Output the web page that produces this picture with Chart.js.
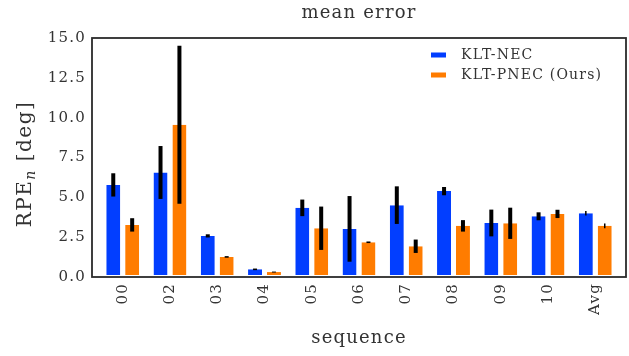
<!DOCTYPE html>
<html>
<head>
<meta charset="utf-8">
<script src="https://cdn.jsdelivr.net/npm/chart.js@4.4.1/dist/chart.umd.min.js"></script>
<style>
  html, body { margin: 0; padding: 0; background: #fff; }
  #wrap { width: 629px; height: 356px; }
</style>
</head>
<body>
<div id="wrap"><canvas id="c" width="629" height="356"></canvas></div>
<script>
// Sequences and per-sequence mean rotational error (deg) with spread
const sequences = ['00', '02', '03', '04', '05', '06', '07', '08', '09', '10', 'Avg'];
const necMean  = [5.78, 6.56, 2.58, 0.48, 4.34, 3.02, 4.51, 5.39, 3.39, 3.81, 4.00];
const necErr   = [0.73, 1.66, 0.10, 0.05, 0.52, 2.06, 1.18, 0.26, 0.84, 0.25, 0.14];
const pnecMean = [3.27, 9.55, 1.26, 0.31, 3.06, 2.18, 1.93, 3.21, 3.37, 3.96, 3.21];
const pnecErr  = [0.42, 4.96, 0.05, 0.03, 1.36, 0.05, 0.42, 0.36, 0.98, 0.26, 0.15];
const yTicks   = [0, 2.5, 5, 7.5, 10, 12.5, 15];
const seriesNames = ['KLT-NEC', 'KLT-PNEC (Ours)'];

const FONT = "'DejaVu Serif', 'Liberation Serif', serif";
const TEXT = '#333';
const BLUE = '#023eff';
const ORANGE = '#ff7c00';
const SPACING = '1.2px';

const toPoints = arr => arr.map((v, i) => ({ x: i, y: v }));
const errors = [necErr, pnecErr];
const avgIndex = sequences.indexOf('Avg');

// Letter spacing for all canvas text
const spacingPlugin = {
  id: 'spacing',
  beforeUpdate(chart) { chart.ctx.letterSpacing = SPACING; },
  beforeDraw(chart) { chart.ctx.letterSpacing = SPACING; }
};

// Black error bars centred on each bar
const errorBars = {
  id: 'errorBars',
  afterDatasetsDraw(chart) {
    const ctx = chart.ctx;
    const y = chart.scales.y;
    ctx.save();
    ctx.strokeStyle = '#000';
    ctx.lineCap = 'butt';
    chart.data.datasets.forEach((ds, di) => {
      const meta = chart.getDatasetMeta(di);
      meta.data.forEach((bar, i) => {
        const v = ds.data[i].y;
        const e = errors[di][i];
        ctx.lineWidth = i === avgIndex ? 1.5 : 4;
        ctx.beginPath();
        ctx.moveTo(bar.x, y.getPixelForValue(v + e));
        ctx.lineTo(bar.x, y.getPixelForValue(v - e));
        ctx.stroke();
      });
    });
    ctx.restore();
  }
};

// Frame, title, y-axis label and legend
const decorations = {
  id: 'decorations',
  afterDraw(chart) {
    const ctx = chart.ctx;
    const a = chart.chartArea;
    ctx.save();
    ctx.strokeStyle = '#2b2b2b';
    ctx.lineWidth = 1.8;
    ctx.strokeRect(a.left, a.top, a.right - a.left, a.bottom - a.top);

    ctx.fillStyle = TEXT;
    ctx.letterSpacing = SPACING;
    ctx.font = `18px ${FONT}`;
    ctx.textAlign = 'center';
    ctx.textBaseline = 'middle';
    ctx.fillText('mean error', (a.left + a.right) / 2, 13);

    // y-axis label: RPE_n [deg]
    ctx.save();
    ctx.translate(26, 164);
    ctx.rotate(-Math.PI / 2);
    ctx.textAlign = 'left';
    ctx.textBaseline = 'middle';
    ctx.letterSpacing = '1.5px';
    const big = `20px ${FONT}`;
    const sub = `italic 14px ${FONT}`;
    ctx.font = big;
    const w1 = ctx.measureText('RPE').width;
    const w3 = ctx.measureText(' [deg]').width;
    ctx.font = sub;
    const w2 = ctx.measureText('n').width;
    let x = -(w1 + w2 + w3) / 2;
    ctx.font = big;
    ctx.fillText('RPE', x, 0);
    x += w1;
    ctx.font = sub;
    ctx.fillText('n', x, 5);
    x += w2;
    ctx.font = big;
    ctx.fillText(' [deg]', x, 0);
    ctx.restore();

    // legend
    ctx.font = `14px ${FONT}`;
    ctx.textAlign = 'left';
    ctx.textBaseline = 'middle';
    chart.data.datasets.forEach((ds, i) => {
      const cy = 55 + i * 20;
      ctx.fillStyle = ds.backgroundColor;
      ctx.fillRect(431, cy - 2.5, 15, 5);
      ctx.fillStyle = TEXT;
      ctx.fillText(ds.label, 461, cy);
    });
    ctx.restore();
  }
};

new Chart(document.getElementById('c'), {
  type: 'bar',
  data: {
    datasets: [
      { label: seriesNames[0], data: toPoints(necMean), backgroundColor: BLUE,
        borderColor: '#fff', borderWidth: { top: 0, left: 0, right: 0, bottom: 2 }, borderSkipped: false },
      { label: seriesNames[1], data: toPoints(pnecMean), backgroundColor: ORANGE,
        borderColor: '#fff', borderWidth: { top: 0, left: 0, right: 0, bottom: 2 }, borderSkipped: false }
    ]
  },
  options: {
    responsive: false,
    animation: false,
    devicePixelRatio: 1,
    categoryPercentage: 0.8,
    barPercentage: 0.74,
    layout: { padding: { top: 38, right: 3, left: 0, bottom: 0 } },
    plugins: {
      legend: { display: false },
      title: { display: false },
      tooltip: { enabled: false }
    },
    scales: {
      x: {
        type: 'linear',
        offset: false,
        min: -0.65,
        max: sequences.length - 1 + 0.65,
        grid: { display: false, drawTicks: false },
        border: { display: false },
        afterBuildTicks(scale) { scale.ticks = sequences.map((_, i) => ({ value: i })); },
        afterFit(scale) { scale.height = 79; },
        ticks: {
          autoSkip: false,
          minRotation: 90,
          maxRotation: 90,
          padding: 6,
          color: TEXT,
          font: { family: FONT, size: 15 },
          callback: v => sequences[v]
        },
        title: {
          display: true,
          text: 'sequence',
          color: TEXT,
          font: { family: FONT, size: 18 },
          padding: { top: 0, bottom: 7 }
        }
      },
      y: {
        min: 0,
        max: 15,
        grid: { display: false, drawTicks: false },
        border: { display: false },
        afterBuildTicks(scale) { scale.ticks = yTicks.map(v => ({ value: v })); },
        afterFit(scale) { scale.width = 92; },
        ticks: {
          padding: 6,
          color: TEXT,
          font: { family: FONT, size: 15 },
          callback: v => v.toFixed(1)
        }
      }
    }
  },
  plugins: [spacingPlugin, errorBars, decorations]
});
</script>
</body>
</html>
